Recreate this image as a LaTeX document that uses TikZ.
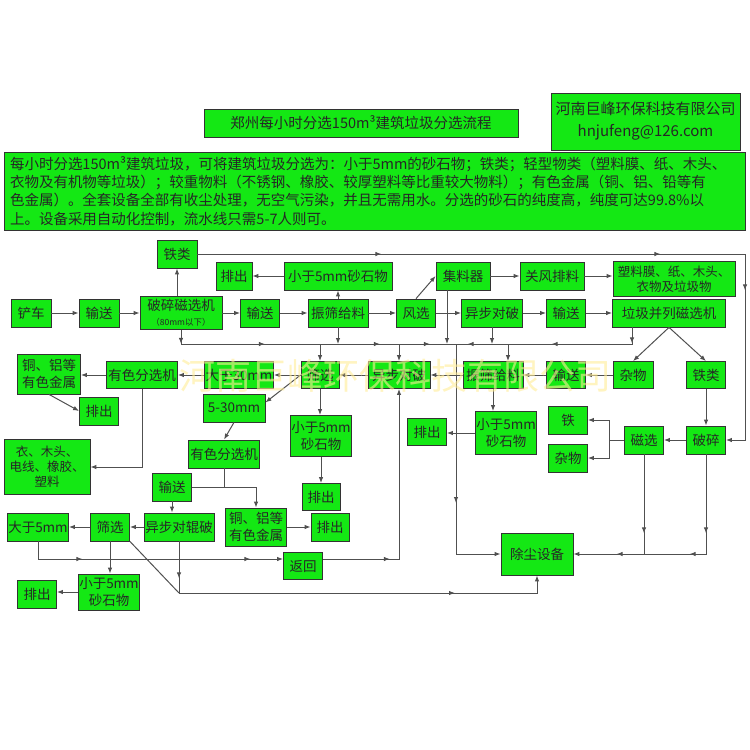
\documentclass[tikz,border=0pt]{standalone}
\usepackage{fontspec}
\setmainfont{Noto Sans CJK SC}
\usetikzlibrary{arrows.meta,decorations.markings}
\definecolor{jfgreen}{RGB}{20,232,20}
\definecolor{jfline}{RGB}{80,80,80}
\definecolor{wmyellow}{RGB}{255,236,150}
\tikzset{
  box/.style={draw=black!80, fill=jfgreen, line width=0.8pt, inner sep=0pt, align=center, text=black!85, font=\fontsize{13.5}{17}\selectfont},
  sz/.style 2 args={minimum width=#1pt, minimum height=#2pt},
  ln/.style={draw=jfline, line width=1pt},
  arrat/.style={postaction={decorate,decoration={markings,mark=at position #1 with {\arrow{>}}}}}
}
\begin{document}
\begin{tikzpicture}[x=1pt,y=-1pt,>={Latex[length=6pt,width=4.5pt]}]
\useasboundingbox (0,0) rectangle (750,750);
\node[box,sz={314}{28},font=\fontsize{14.5}{16}\selectfont] (title) at (361,123){郑州每小时分选150m³建筑垃圾分选流程};
\node[box,sz={189}{57},font=\fontsize{15}{22}\selectfont] (corp) at (645.5,121.5){河南巨峰环保科技有限公司\\hnjufeng@126.com};
\node[box,sz={741}{78},text width=730pt,align=left,font=\fontsize{14.5}{18.3}\selectfont] (desc) at (375,191){每小时分选150m³建筑垃圾，可将建筑垃圾分选为：小于5mm的砂石物；铁类；轻型物类（塑料膜、纸、木头、\\衣物及有机物等垃圾）；较重物料（不锈钢、橡胶、较厚塑料等比重较大物料）；有色金属（铜、铝、铅等有\\色金属）。全套设备全部有收尘处理，无空气污染，并且无需用水。分选的砂石的纯度高，纯度可达99.8\%以\\上。设备采用自动化控制，流水线只需5-7人则可。};
\foreach \nm/\px/\py/\bw/\bh/\lab in {t1/177/254/40/28/铁类, pc1/234/276/36/28/排出, xs1/338/276/108/28/小于5mm砂石物,
  chan/31/313/40/28/铲车, ss1/99/313/40/28/输送, ss2/260/313/39/28/输送, zs1/338/313/60/28/振筛给料,
  fx/416/313/39/28/风选, jlq/463/276/54/28/集料器, gf/552/276/64/28/关风排料, yb1/492/313/61/28/异步对破,
  ss3/566/313/39/28/输送, ljc/669/313/113/28/垃圾并列磁选机,
  yf1/142/375/71/27/有色分选机, d30/239/375/69/27/大于30mm, sx1/320/375/38/27/筛选, yb2/399/375/62/27/异步对破,
  zs2/493/375/60/27/振筛给料, ss4/566/375/39/27/输送, zw1/633/375/40/27/杂物, t2/706/375/39/27/铁类,
  pc2/99/411/39/28/排出, d530/234/408/62/28/5-30mm, yf2/224/454/71/28/有色分选机, pc3/321/497/38/27/排出,
  ss5/172/487/39/28/输送, pc4/330/527/38/28/排出, ydg/179/527/70/28/异步对辊破, sx2/110/527/39/28/筛选,
  d5/38/527/61/28/大于5mm, pc5/37/594/39/28/排出, fh/303/566/39/27/返回, ps/706/440/39/28/破碎,
  cx/644/440/39/28/磁选, tie/568/420/39/28/铁, zw2/568/458/39/28/杂物, pc6/427/432/39/27/排出,
  cch/537/554/72/42/除尘设备}
  \node[box,sz={\bw}{\bh}] (\nm) at (\px,\py){\lab};
\node[box,sz={82}{33},font=\fontsize{13.5}{15}\selectfont] (psc) at (181,313){破碎磁选机\\{\fontsize{8.5}{10}\selectfont（80mm以下）}};
\node[box,sz={122}{35},font=\fontsize{12.5}{15}\selectfont] (slm) at (674,279){塑料膜、纸、木头、\\衣物及垃圾物};
\node[box,sz={63}{40}] (tl1) at (49,374){铜、铝等\\有色金属};
\node[box,sz={61}{41}] (xs3) at (321,436){小于5mm\\砂石物};
\node[box,sz={86}{55},font=\fontsize{12.5}{15}\selectfont] (yi) at (47,467){衣、木头、\\电线、橡胶、\\塑料};
\node[box,sz={61}{38}] (tl2) at (256,527){铜、铝等\\有色金属};
\node[box,sz={61}{36}] (xs4) at (109,592){小于5mm\\砂石物};
\node[box,sz={61}{43}] (xs2) at (506,433){小于5mm\\砂石物};
\coordinate (bj) at (456,344);
\coordinate (rb) at (632,344);
\coordinate (jx) at (447,344);
\coordinate (zu) at (508,344);
\coordinate (tb) at (745,254);
\coordinate (rl) at (38,559);
\coordinate (bl) at (179,593);
\coordinate (mx) at (609,440);
\foreach \a/\b in {chan/ss1,ss1/psc,psc/ss2,ss2/zs1,zs1/fx,fx/yb1,yb1/ss3,ss3/ljc,jlq/gf,gf/slm,tl2/pc4}
  \draw[ln,->] (\a.east) -- (\a.east -| \b.west);
\foreach \a/\b in {xs1/pc1,zw1/ss4,ss4/zs2,zs2/yb2,yb2/sx1,sx1/d30,d30/yf1,yf1/tl1,ydg/sx2,sx2/d5,xs4/pc5,xs2/pc6,ps/cx}
  \draw[ln,->] (\a.west) -- (\a.west -| \b.east);
\foreach \a/\b in {sx1/xs3,xs3/pc3,ss5/ydg,sx2/xs4,t2/ps,zs2/xs2}
  \draw[ln,->] (\a.south) -- (\a.south |- \b.north);
\draw[ln,->] (t1.south |- psc.north) -- (t1.south);
\draw[ln,->] (xs1.south |- zs1.north) -- (xs1.south);
\draw[ln,->] (fx.north) -- (jlq.west);
\draw[ln,->] (ljc.south) -- (zw1.north);
\draw[ln,->] (ljc.south) -- (t2.north);
\draw[ln,->] (sx1.west) -- (d530.10);
\draw[ln,->] (tl1.south) -- (pc2.west);
\draw[ln,->] (d530.south) -- (yf2.north);
\draw[ln,->] (yf1.south) |- (yi.east);
\draw[ln] (yf2.south) -- (yf2.south |- ss5.east);
\draw[ln,->] (ss5.east) -| (tl2.north);
\draw[ln,->,arrat=184pt,arrat=463pt,arrat=584pt] (t1.east) -- (tb) |- (ps.east);
\draw[ln,arrat=14pt,arrat=98pt,arrat=213pt,arrat=263pt] (psc.south) -- (psc.south |- bj) -- (bj);
\draw[ln,arrat=16pt,arrat=97pt,arrat=181pt] (ljc.south -| rb) -- (rb) -- (bj);
\foreach \n in {zs1,yb1}
  \draw[ln,->] (\n.south) -- (\n.south |- bj);
\draw[ln,->] (jlq.south -| jx) -- (jx);
\foreach \n in {sx1,yb2}
  \draw[ln,->] (\n.north |- bj) -- (\n.north);
\draw[ln,->] (zu) -- (zu |- zs2.north);
\draw[ln,->,arrat=159pt] (bj) |- (cch.west);
\draw[ln,->,arrat=79pt,arrat=116pt,arrat=189pt] (ps.south) |- (cch.east);
\draw[ln,arrat=79pt] (cx.south) -- (cx.south |- cch.east);
\draw[ln] (cx.west) -- (mx);
\draw[ln,->] (mx) |- (tie.east);
\draw[ln,->] (mx) |- (zw2.east);
\draw[ln,->,arrat=62pt,arrat=230pt] (d5.south) -- (rl) -- (fh.west |- rl);
\draw[ln,->,arrat=67pt] (fh.east |- rl) -| (yb2.south);
\draw[ln,arrat=37pt] (ydg.south) -- (bl);
\draw[ln] (sx2.south east) -- (bl);
\draw[ln,->,arrat=276pt] (bl) -| (cch.south);
\node[text=wmyellow,opacity=0.6,font=\fontsize{36}{36}\selectfont] (wm) at (395,376){河南巨峰环保科技有限公司};
\end{tikzpicture}
\end{document}
